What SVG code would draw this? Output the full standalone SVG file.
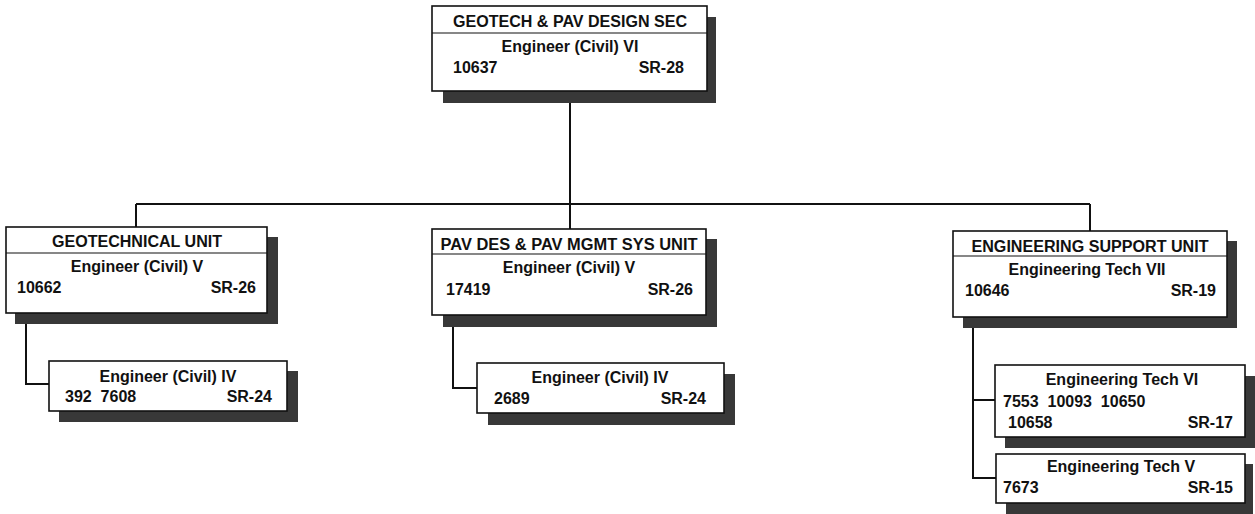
<svg xmlns="http://www.w3.org/2000/svg" width="1255" height="514" viewBox="0 0 1255 514">
<style>
.shadow{fill:#383838;}
.box{fill:#ffffff;stroke:#111;stroke-width:1.6;}
.sep{stroke:#111;stroke-width:1.2;}
.conn{fill:none;stroke:#111;stroke-width:2;}
text{font-family:"Liberation Sans",Arial,sans-serif;font-size:16px;fill:#111;}
.hd{font-weight:bold;text-anchor:middle;}
.tt{font-weight:bold;text-anchor:middle;}
.b{font-weight:bold;}
.r{font-weight:bold;text-anchor:end;}
</style>
<rect width="1255" height="514" fill="#ffffff"/>
<g id="connectors">
<path class="conn" d="M570,91 V204 M136,204 H1090 M136,204 V227 M570,204 V229 M1090,204 V231"/>
<path class="conn" d="M26,313 V384 H49"/>
<path class="conn" d="M453,315 V388 H477"/>
<path class="conn" d="M973,317 V478 H996 M973,400 H995"/>
</g>
<g id="node-sec">
<rect class="shadow" x="443" y="17" width="273" height="86"/>
<rect class="box" x="432" y="6" width="275" height="85"/>
<line class="sep" x1="432" y1="33" x2="707" y2="33"/>
<text class="hd" x="570" y="27" textLength="234" lengthAdjust="spacingAndGlyphs">GEOTECH &amp; PAV DESIGN SEC</text>
<text class="tt" x="570" y="52">Engineer (Civil) VI</text>
<text class="b" x="453" y="73">10637</text>
<text class="r" x="684" y="73">SR-28</text>
</g>
<g id="node-geo">
<rect class="shadow" x="15" y="237" width="263" height="87"/>
<rect class="box" x="6" y="227" width="261" height="86"/>
<line class="sep" x1="6" y1="253" x2="267" y2="253"/>
<text class="hd" x="137" y="247" textLength="170" lengthAdjust="spacingAndGlyphs">GEOTECHNICAL UNIT</text>
<text class="tt" x="137" y="272">Engineer (Civil) V</text>
<text class="b" x="17" y="293">10662</text>
<text class="r" x="256" y="293">SR-26</text>
</g>
<g id="node-geo-iv">
<rect class="shadow" x="59" y="371" width="239" height="51"/>
<rect class="box" x="49" y="361" width="238" height="50"/>
<text class="tt" x="168" y="382">Engineer (Civil) IV</text>
<text class="b" x="65" y="402" xml:space="preserve">392  7608</text>
<text class="r" x="272" y="402">SR-24</text>
</g>
<g id="node-pav">
<rect class="shadow" x="443" y="239" width="274" height="88"/>
<rect class="box" x="432" y="229" width="274" height="86"/>
<line class="sep" x1="432" y1="254" x2="706" y2="254"/>
<text class="hd" x="569" y="250" textLength="257" lengthAdjust="spacingAndGlyphs">PAV DES &amp; PAV MGMT SYS UNIT</text>
<text class="tt" x="569" y="273">Engineer (Civil) V</text>
<text class="b" x="446" y="295">17419</text>
<text class="r" x="693" y="295">SR-26</text>
</g>
<g id="node-pav-iv">
<rect class="shadow" x="488" y="374" width="247" height="51"/>
<rect class="box" x="477" y="363" width="247" height="50"/>
<text class="tt" x="600" y="383">Engineer (Civil) IV</text>
<text class="b" x="494" y="404">2689</text>
<text class="r" x="706" y="404">SR-24</text>
</g>
<g id="node-esu">
<rect class="shadow" x="963" y="241" width="274" height="87"/>
<rect class="box" x="953" y="231" width="274" height="86"/>
<line class="sep" x1="953" y1="256" x2="1227" y2="256"/>
<text class="hd" x="1090" y="252" textLength="237" lengthAdjust="spacingAndGlyphs">ENGINEERING SUPPORT UNIT</text>
<text class="tt" x="1087" y="275">Engineering Tech VII</text>
<text class="b" x="965" y="296">10646</text>
<text class="r" x="1216" y="296">SR-19</text>
</g>
<g id="node-tech-vi">
<rect class="shadow" x="1005" y="376" width="250" height="72"/>
<rect class="box" x="995" y="365" width="250" height="72"/>
<text class="tt" x="1122" y="385">Engineering Tech VI</text>
<text class="b" x="1003" y="407" xml:space="preserve">7553  10093  10650</text>
<text class="b" x="1008" y="428">10658</text>
<text class="r" x="1233" y="428">SR-17</text>
</g>
<g id="node-tech-v">
<rect class="shadow" x="1006" y="464" width="247" height="50"/>
<rect class="box" x="996" y="454" width="249" height="49"/>
<text class="tt" x="1121" y="472">Engineering Tech V</text>
<text class="b" x="1003" y="493">7673</text>
<text class="r" x="1233" y="493">SR-15</text>
</g>
</svg>
